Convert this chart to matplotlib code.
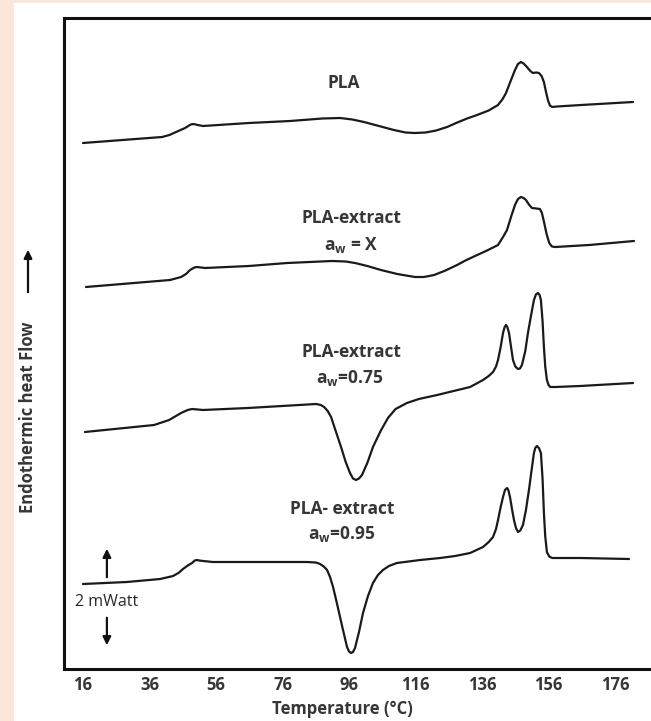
import numpy as np
import matplotlib
matplotlib.use("Agg")
import matplotlib.pyplot as plt
from matplotlib.patches import Rectangle

# DSC traces: temperature (C) and heat flow (mW, offset per trace)
t_pla = [16.0, 39.8, 42.0, 44.0, 46.7, 48.4, 49.3, 50.5, 52.1, 65.9, 78.3, 88.0, 93.3, 97.0,
         100.5, 105.0, 109.5, 113.0, 115.8, 119.0, 122.2, 125.5, 128.2, 131.5, 134.5, 138.0,
         140.8, 142.2, 143.2, 144.6, 145.9, 146.8, 147.7, 148.5, 149.5, 150.5, 151.3, 152.3,
         153.1, 153.9, 154.6, 155.2, 155.8, 156.4, 157.1, 158.5, 165.8, 181.4]
q_pla = [10.52, 10.64, 10.68, 10.74, 10.82, 10.89, 10.90, 10.88, 10.86, 10.92, 10.96, 11.01,
         11.02, 10.99, 10.94, 10.86, 10.78, 10.73, 10.72, 10.73, 10.77, 10.84, 10.92, 11.01,
         11.08, 11.17, 11.28, 11.40, 11.52, 11.76, 11.98, 12.10, 12.14, 12.11, 12.04, 11.96,
         11.92, 11.93, 11.92, 11.86, 11.74, 11.55, 11.38, 11.27, 11.24, 11.25, 11.28, 11.34]

t_x = [16.9, 42.2, 45.5, 47.0, 48.2, 49.5, 50.3, 51.5, 52.7, 65.9, 77.4, 90.9, 95.0, 97.8,
       101.5, 105.6, 110.5, 115.8, 118.5, 121.6, 125.0, 128.5, 131.0, 133.9, 137.5, 140.8,
       142.3, 143.5, 144.8, 145.9, 146.8, 147.7, 148.5, 149.2, 150.2, 151.0, 152.3, 153.4,
       154.0, 154.6, 155.4, 156.2, 157.0, 158.0, 168.2, 181.7]
q_x = [7.64, 7.78, 7.84, 7.90, 7.98, 8.03, 8.04, 8.03, 8.02, 8.06, 8.12, 8.16, 8.15, 8.12,
       8.06, 7.98, 7.90, 7.84, 7.84, 7.88, 7.97, 8.08, 8.17, 8.26, 8.37, 8.48, 8.64, 8.78,
       9.06, 9.28, 9.40, 9.44, 9.42, 9.38, 9.28, 9.22, 9.21, 9.20, 9.12, 8.95, 8.70, 8.52,
       8.45, 8.44, 8.48, 8.56]

t_75 = [16.6, 37.4, 41.9, 45.5, 47.5, 48.8, 50.5, 52.1, 65.6, 86.1, 87.5, 88.5, 89.6, 90.6,
        92.0, 93.6, 95.0, 96.3, 97.2, 98.1, 99.0, 99.9, 101.5, 103.2, 105.5, 107.7, 110.0,
        113.4, 117.0, 122.5, 132.4, 136.3, 138.0, 139.3, 140.2, 140.8, 141.6, 142.3, 142.8,
        143.2, 143.6, 144.1, 144.7, 145.3, 146.0, 146.8, 147.4, 148.0, 149.0, 149.8, 150.7,
        151.6, 152.2, 152.8, 153.3, 153.7, 154.2, 154.6, 155.0, 155.5, 156.0, 156.5, 158.0,
        165.5, 181.4]
q_75 = [4.74, 4.88, 4.98, 5.12, 5.18, 5.20, 5.19, 5.18, 5.22, 5.30, 5.28, 5.24, 5.16, 5.04,
        4.76, 4.44, 4.14, 3.92, 3.81, 3.78, 3.81, 3.88, 4.12, 4.44, 4.76, 5.02, 5.20, 5.32,
        5.40, 5.48, 5.64, 5.78, 5.86, 5.94, 6.05, 6.18, 6.44, 6.72, 6.84, 6.88, 6.84, 6.72,
        6.45, 6.18, 6.05, 6.00, 6.01, 6.08, 6.36, 6.72, 7.06, 7.38, 7.49, 7.52, 7.48, 7.38,
        6.95, 6.44, 6.05, 5.78, 5.68, 5.64, 5.64, 5.66, 5.72]

t_95 = [16.0, 29.2, 39.2, 43.1, 44.7, 46.1, 47.5, 48.8, 49.6, 50.3, 51.0, 52.1, 55.1, 69.2,
        83.4, 86.0, 87.3, 88.4, 89.4, 90.3, 91.2, 92.2, 93.3, 94.4, 95.4, 96.0, 96.6, 97.2,
        97.8, 99.0, 100.2, 101.7, 103.2, 104.7, 106.2, 108.0, 110.4, 117.4, 123.4, 127.9,
        132.4, 136.3, 138.0, 139.3, 140.2, 140.8, 141.6, 142.3, 142.9, 143.5, 143.9, 144.4,
        145.0, 145.6, 146.2, 146.8, 147.5, 148.3, 149.2, 150.1, 150.9, 151.6, 152.0, 152.5,
        153.1, 153.7, 154.2, 154.6, 155.0, 155.5, 156.2, 157.1, 165.5, 180.2]
q_95 = [1.70, 1.74, 1.80, 1.86, 1.92, 2.00, 2.07, 2.12, 2.17, 2.18, 2.17, 2.16, 2.14, 2.14,
        2.14, 2.13, 2.10, 2.05, 1.98, 1.84, 1.64, 1.36, 1.04, 0.72, 0.44, 0.35, 0.32, 0.34,
        0.42, 0.74, 1.12, 1.46, 1.72, 1.88, 1.98, 2.06, 2.12, 2.18, 2.22, 2.26, 2.32, 2.44,
        2.54, 2.64, 2.80, 2.98, 3.24, 3.44, 3.58, 3.62, 3.58, 3.44, 3.20, 2.98, 2.82, 2.74,
        2.77, 2.88, 3.18, 3.58, 3.98, 4.32, 4.42, 4.46, 4.42, 4.32, 3.80, 3.12, 2.65, 2.34,
        2.25, 2.22, 2.22, 2.20]

xticks = [16, 36, 56, 76, 96, 116, 136, 156, 176]

plt.rcParams['font.family'] = ['Open Sans', 'DejaVu Sans']
plt.rcParams['mathtext.default'] = 'regular'
txt = '#363636'

fig = plt.figure(figsize=(6.51, 7.21), dpi=100)
fig.patch.set_facecolor('#fbe6d8')
fig.patches.append(Rectangle((14 / 651, 0), 1, 1 - 3 / 721, transform=fig.transFigure,
                             facecolor='white', edgecolor='none', zorder=-10))

ax = fig.add_axes([64 / 651, 52 / 721, 1 - 64 / 651, (669 - 18) / 721])
ax.set_facecolor('white')

for t, q in [(t_pla, q_pla), (t_x, q_x), (t_75, q_75), (t_95, q_95)]:
    ax.plot(t, q, color='#1a1a1a', lw=1.6, solid_joinstyle='round', solid_capstyle='round')

ax.set_xlim(10.3, 186.8)
ax.set_ylim(0, 13.02)
ax.set_xticks(xticks)
ax.set_yticks([])
ax.tick_params(axis='x', length=0, pad=5, labelsize=12, labelcolor=txt)
for lab in ax.get_xticklabels():
    lab.set_fontweight('bold')
for s in ['left', 'top', 'bottom']:
    ax.spines[s].set_linewidth(2.2)
    ax.spines[s].set_color('#111111')
ax.spines['right'].set_visible(False)

ax.set_xlabel('Temperature (°C)', fontsize=12, fontweight='bold', color=txt)
ax.xaxis.set_label_coords(0.475, -0.048)

kw = dict(ha='center', va='center', fontsize=12.5, fontweight='bold', color=txt)
ax.text(94.5, 11.72, 'PLA', **kw)
ax.text(96.6, 9.02, 'PLA-extract', **kw)
ax.text(96.6, 8.48, 'a$_w$ = X', **kw)
ax.text(96.6, 6.34, 'PLA-extract', **kw)
ax.text(96.3, 5.82, 'a$_w$=0.75', **kw)
ax.text(93.9, 3.20, 'PLA- extract', **kw)
ax.text(93.9, 2.70, 'a$_w$=0.95', **kw)

# 2 mW scale bar
arr = dict(arrowstyle='-|>', color='#111111', lw=1.6, mutation_scale=12)
ax.annotate('', xy=(23.2, 2.46), xytext=(23.2, 1.78), arrowprops=arr)
ax.annotate('', xy=(23.2, 0.42), xytext=(23.2, 1.08), arrowprops=arr)
ax.text(23.2, 1.34, '2 mWatt', ha='center', va='center', fontsize=11.5, color='#2a2a2a')

# y label with arrow
fig.text(28 / 651, 1 - 417 / 721, 'Endothermic heat Flow', rotation=90, ha='center',
         va='center', fontsize=12, fontweight='bold', color=txt)
ax.annotate('', xy=(28 / 651, 1 - 247 / 721), xytext=(28 / 651, 1 - 295 / 721),
            xycoords='figure fraction', textcoords='figure fraction', arrowprops=arr)

fig.savefig('out.png', dpi=100, facecolor=fig.get_facecolor())
